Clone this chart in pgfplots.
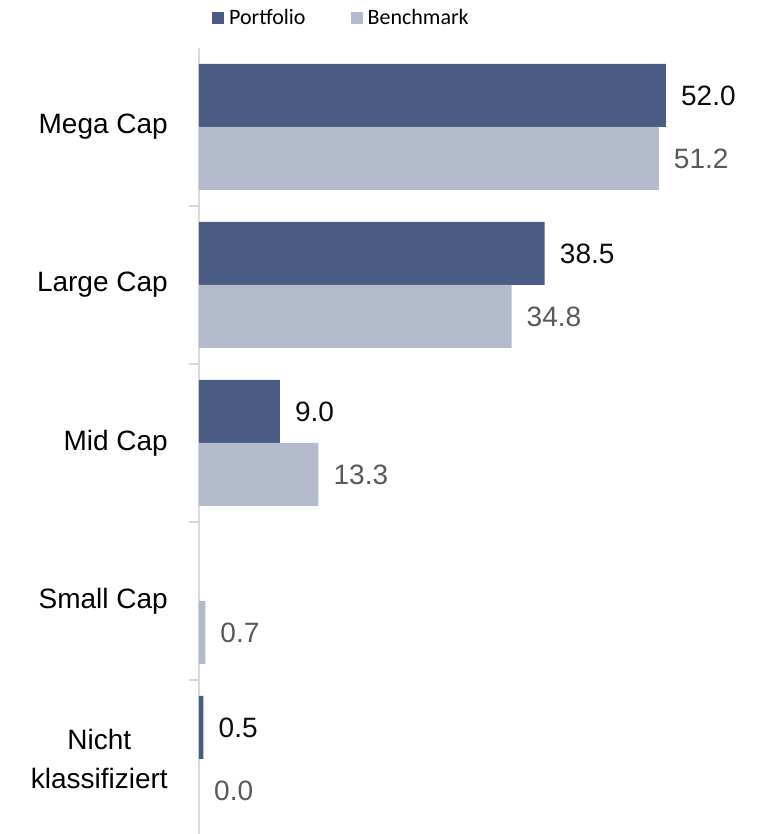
\documentclass[border=0pt]{standalone}
\usepackage{pgfplots}
\pgfplotsset{compat=1.18}
\usepackage{fontspec}
\setmainfont{Liberation Sans}
\newfontfamily\legfont{Carlito}
\definecolor{port}{HTML}{4A5C84}
\definecolor{bench}{HTML}{B3BACB}
\definecolor{axgray}{HTML}{D9D9D9}
\definecolor{benchtxt}{HTML}{595959}
\definecolor{porttxt}{HTML}{0D0D0D}
\begin{document}
\begin{tikzpicture}
\useasboundingbox (-199pt,0pt) rectangle (560pt,834pt);
\begin{axis}[
  at={(0pt,0pt)}, anchor=south west,
  x=8.98pt, y=158pt,
  xmin=0, xmax=62, ymin=-0.475, ymax=4.5,
  xbar, bar width=63pt,
  clip=false,
  hide x axis,
  axis y line*=left,
  y axis line style={axgray, line width=1.2pt, -},
  ytick={0,1,2,3,4},
  yticklabels={{Nicht\\klassifiziert},{Small Cap},{Mid Cap},{Large Cap},{Mega Cap}},
  yticklabel style={font=\fontsize{28}{39}\selectfont, align=center, anchor=east, inner sep=0pt, xshift=-31pt, text=black},
  major tick length=0pt,
  minor ytick={0.5,1.5,2.5,3.5},
  minor tick length=10pt,
  tick align=outside,
  every tick/.style={axgray, line width=1.2pt},
  point meta=x,
  nodes near coords={\pgfmathprintnumber[fixed,fixed zerofill,precision=1,assume math mode=true]{\pgfplotspointmeta}},
  nodes near coords align={horizontal},
  every node near coord/.append style={font=\fontsize{28}{34}\selectfont, inner sep=0pt, anchor=west, xshift=15pt},
  legend image code/.code={\fill[#1] (0pt,-6pt) rectangle (12pt,6pt);},
  legend style={at={(axis description cs:0.254,1.038)}, anchor=center, draw=none, fill=none,
    font=\legfont\fontsize{22}{26}\selectfont, legend columns=2,
    nodes={inner sep=0pt},
    /tikz/every odd column/.append style={column sep=5pt},
    /tikz/every even column/.append style={column sep=45pt}},
]
\addplot[fill=port, draw=none, bar shift=31.5pt, every node near coord/.append style={text=porttxt}]
  coordinates {(52.0,4) (38.5,3) (9.0,2) (0.5,0)};
\addplot[fill=bench, draw=none, bar shift=-31.5pt, every node near coord/.append style={text=benchtxt}]
  coordinates {(51.2,4) (34.8,3) (13.3,2) (0.7,1) (0.0,0)};
\legend{Portfolio, Benchmark}
\end{axis}
\end{tikzpicture}
\end{document}
